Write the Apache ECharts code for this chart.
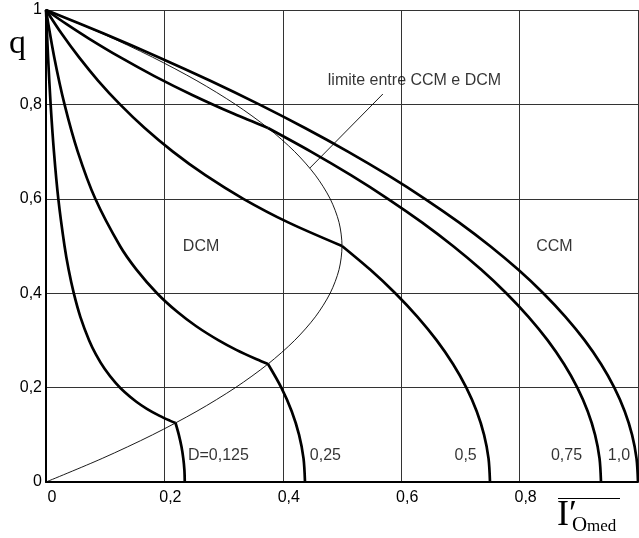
<!DOCTYPE html>
<html>
<head>
<meta charset="utf-8">
<script src="https://cdn.jsdelivr.net/npm/echarts@6/dist/echarts.min.js"></script>
<style>
html,body{margin:0;padding:0;background:#fff;}
#c{width:639px;height:538px;}
</style>
</head>
<body>
<div id="c"></div>
<script>
// ---- data (x = I'o med, y = q) ----
var xTicks = [0, 0.2, 0.4, 0.6, 0.8, 1];
var yTicks = [0, 0.2, 0.4, 0.6, 0.8, 1];

var d0125Dcm = [[0,1],[0.0035,0.9],[0.0078,0.8],[0.0134,0.7],[0.0208,0.6],[0.0313,0.5],[0.0382,0.45],[0.0469,0.4],[0.058,0.35],[0.0729,0.3],[0.0845,0.27],[0.099,0.24],[0.1176,0.21],[0.1332,0.19],[0.1526,0.17],[0.1704,0.155],[0.192,0.14],[0.2091,0.13],[0.2188,0.125]];
var d0125Ccm = [[0.2188,0.125],[0.2244,0.1],[0.2288,0.075],[0.2319,0.05],[0.2338,0.025],[0.2344,0]];

var d025Dcm = [[0,1],[0.0139,0.9],[0.0313,0.8],[0.0536,0.7],[0.0833,0.6],[0.125,0.5],[0.1528,0.45],[0.1875,0.4],[0.2222,0.36],[0.2538,0.33],[0.2917,0.3],[0.3214,0.28],[0.3558,0.26],[0.375,0.25]];
var d025Ccm = [[0.375,0.25],[0.3975,0.2],[0.415,0.15],[0.4275,0.1],[0.435,0.05],[0.4375,0]];

var d05Dcm = [[0,1],[0.0263,0.95],[0.0556,0.9],[0.0882,0.85],[0.125,0.8],[0.1667,0.75],[0.2143,0.7],[0.2692,0.65],[0.3333,0.6],[0.4091,0.55],[0.5,0.5]];
var d05Ccm = [[0.5,0.5],[0.5475,0.45],[0.59,0.4],[0.6275,0.35],[0.66,0.3],[0.6875,0.25],[0.71,0.2],[0.7275,0.15],[0.74,0.1],[0.7475,0.05],[0.75,0]];

var d075Dcm = [[0,1],[0.0348,0.97],[0.0718,0.94],[0.125,0.9],[0.1831,0.86],[0.247,0.82],[0.3173,0.78],[0.375,0.75]];
var d075Ccm = [[0.375,0.75],[0.4475,0.7],[0.515,0.65],[0.5775,0.6],[0.635,0.55],[0.6875,0.5],[0.735,0.45],[0.7775,0.4],[0.815,0.35],[0.8475,0.3],[0.875,0.25],[0.8975,0.2],[0.915,0.15],[0.9275,0.1],[0.935,0.05],[0.9375,0]];

var d1 = [[0,1],[0.0975,0.95],[0.19,0.9],[0.2775,0.85],[0.36,0.8],[0.4375,0.75],[0.51,0.7],[0.5775,0.65],[0.64,0.6],[0.6975,0.55],[0.75,0.5],[0.7975,0.45],[0.84,0.4],[0.8775,0.35],[0.91,0.3],[0.9375,0.25],[0.96,0.2],[0.9775,0.15],[0.99,0.1],[0.9975,0.05],[1,0]];

var limitCurve = [[0,0],[0.095,0.05],[0.18,0.1],[0.255,0.15],[0.32,0.2],[0.375,0.25],[0.42,0.3],[0.455,0.35],[0.48,0.4],[0.495,0.45],[0.5,0.5],[0.495,0.55],[0.48,0.6],[0.455,0.65],[0.42,0.7],[0.375,0.75],[0.32,0.8],[0.255,0.85],[0.18,0.9],[0.095,0.95],[0,1]];

var leader = [[0.569,0.822],[0.4456,0.665]];

var annotNames = ['limite entre CCM e DCM','DCM','CCM','D=0,125','0,25','0,5','0,75','1,0'];
var annotX = [0.476,0.2312,0.828,0.2397,0.4456,0.690,0.853,0.949];
var annotY = [0.85,0.4993,0.4993,0.0557,0.0557,0.0557,0.0557,0.0557];

// ---- chart ----
var chart = echarts.init(document.getElementById('c'), null, {renderer:'canvas'});
function fmt(v){ return String(+(+v).toFixed(1)).replace('.', ','); }
function thick(data){ return {type:'line', data:data, showSymbol:false, symbol:'none', smooth:0.3, lineStyle:{color:'#000', width:2.7, join:'round'}, silent:true, z:3}; }

var annotData = annotNames.map(function(n,i){ return {value:[annotX[i], annotY[i]], name:n}; });

var option = {
  animation:false,
  backgroundColor:'#fff',
  grid:{left:46, right:1, top:10, bottom:56, containLabel:false, outerBoundsMode:'none'},
  xAxis:{type:'value', min:0, max:1, interval:0.2,
    axisLine:{show:true, onZero:false, lineStyle:{color:'#000', width:2}},
    axisTick:{show:false},
    splitLine:{show:true, lineStyle:{color:'#333', width:1}},
    axisLabel:{formatter:fmt, color:'#000', fontSize:16, fontFamily:'Liberation Sans, Arial, sans-serif', margin:8, padding:[0,0,0,12], showMaxLabel:true, showMinLabel:true, hideOverlap:false}
  },
  yAxis:{type:'value', min:0, max:1, interval:0.2,
    axisLine:{show:true, onZero:false, lineStyle:{color:'#000', width:2}},
    axisTick:{show:false},
    splitLine:{show:true, lineStyle:{color:'#333', width:1}},
    axisLabel:{formatter:fmt, color:'#000', fontSize:16, fontFamily:'Liberation Sans, Arial, sans-serif', margin:4, showMaxLabel:true, showMinLabel:true}
  },
  series:[
    {type:'line', data:limitCurve, showSymbol:false, symbol:'none', smooth:0.3, lineStyle:{color:'#000', width:0.9}, silent:true, z:2},
    {type:'line', data:leader, showSymbol:false, symbol:'none', lineStyle:{color:'#000', width:0.9}, silent:true, z:2},
    thick(d0125Dcm), thick(d0125Ccm),
    thick(d025Dcm), thick(d025Ccm),
    thick(d05Dcm), thick(d05Ccm),
    thick(d075Dcm), thick(d075Ccm),
    thick(d1),
    {type:'scatter', data:annotData, symbolSize:0, silent:true, z:5,
      label:{show:true, position:'right', distance:0, formatter:function(p){return p.name;}, color:'#000', fontSize:16, fontFamily:'Liberation Sans, Arial, sans-serif', align:'left', verticalAlign:'middle'}}
  ],
  graphic:[
    {type:'text', x:9, y:44, style:{text:'q', font:'34px "Liberation Serif", "Times New Roman", serif', fill:'#000', textAlign:'left', textVerticalAlign:'middle'}},
    {type:'line', shape:{x1:558, y1:498.5, x2:620, y2:498.5}, style:{stroke:'#000', lineWidth:1}},
    {type:'text', x:557, y:516, style:{text:'I\u2032', font:'36px "Liberation Serif", "DejaVu Serif", serif', fill:'#000', textAlign:'left', textVerticalAlign:'middle'}},
    {type:'text', x:572, y:525, style:{text:'O', font:'21px "Liberation Serif", serif', fill:'#000', textAlign:'left', textVerticalAlign:'middle'}},
    {type:'text', x:587, y:527, style:{text:'med', font:'17px "Liberation Serif", serif', fill:'#000', textAlign:'left', textVerticalAlign:'middle'}}
  ]
};
chart.setOption(option);
</script>
</body>
</html>
